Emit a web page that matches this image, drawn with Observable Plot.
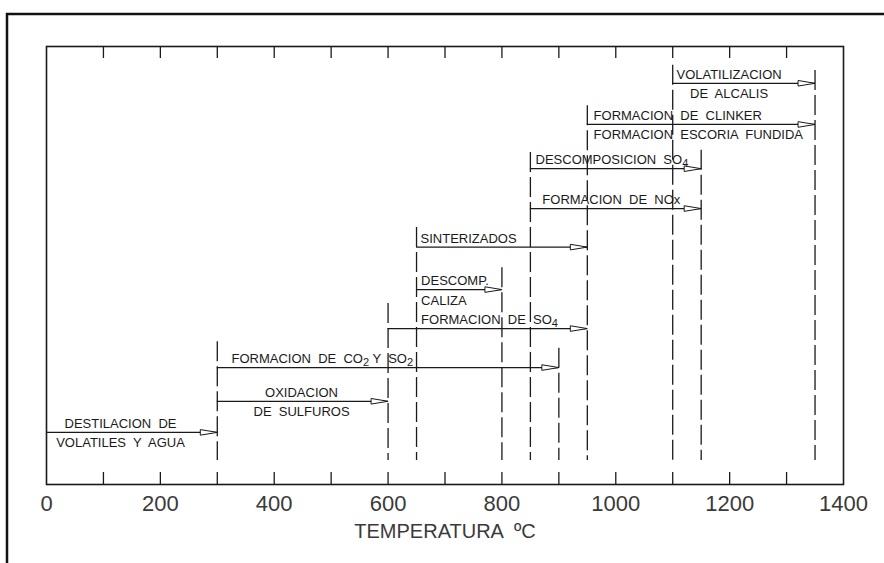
<!DOCTYPE html>
<html>
<head>
<meta charset="utf-8">
<script src="https://cdn.jsdelivr.net/npm/d3@7"></script>
<script src="https://cdn.jsdelivr.net/npm/@observablehq/plot@0.6"></script>
<style>
  html, body { margin: 0; padding: 0; background: white; }
  svg text { white-space: pre; }
</style>
</head>
<body>
<div id="chart"></div>
<script>
// ---- Data: stages of clinker burning vs. temperature (°C) ----
const labelsAbove = [
  "DESTILACION  DE", "OXIDACION", "FORMACION  DE  CO₂ Y  SO₂", "FORMACION  DE  SO₄",
  "DESCOMP.", "SINTERIZADOS", "FORMACION  DE  NOx", "DESCOMPOSICION  SO₄",
  "FORMACION  DE  CLINKER", "VOLATILIZACION"
];
const labelsBelow = [
  "VOLATILES  Y  AGUA", "DE  SULFUROS", "", "", "CALIZA", "", "", "",
  "FORMACION  ESCORIA  FUNDIDA", "DE  ALCALIS"
];
const tStart = [0, 300, 300, 600, 650, 650, 850, 850, 950, 1100];
const tEnd   = [300, 600, 900, 950, 800, 950, 1150, 1150, 1350, 1350];
const rowLevel = [11.9, 19.0, 26.7, 35.6, 44.5, 54.2, 63.0, 72.1, 82.2, 91.6];

// reference temperatures (dashed verticals) and the level where each begins
const markerTemps = [300, 600, 650, 800, 850, 900, 950, 1100, 1150, 1350];
const markerTop   = [32.6, 41.3, 58.7, 49.5, 75.8, 31.1, 86.5, 95.7, 76.3, 94.5];

const xTicks = [0, 200, 400, 600, 800, 1000, 1200, 1400];
const minorTicks = [100, 200, 300, 400, 500, 600, 700, 800, 900, 1000, 1100, 1200, 1300];
const axisTitle = "TEMPERATURA  ºC";

// ---- Layout (label anchoring) ----
const labelX = [130, 448, 325, 658, 658, 657, 871, 859, 961, 1199];
const labelAlign = ["middle", "middle", "start", "start", "start", "start", "start", "start", "start", "middle"];
const markerBottom = 5.5;

const rows = tStart.map((t0, i) => ({
  t0, t1: tEnd[i], level: rowLevel[i],
  above: labelsAbove[i], below: labelsBelow[i],
  lx: labelX[i], align: labelAlign[i]
}));
const markers = markerTemps.map((t, i) => ({t, top: markerTop[i]}));

const arrowHead = {
  draw(ctx) {
    ctx.moveTo(0, 0);
    ctx.lineTo(-17, -2.8);
    ctx.lineTo(-17, 2.8);
    ctx.closePath();
  }
};

const ink = "#1a1a1a";
const labelFont = 13;

const textMarks = ["start", "middle"].flatMap(a => [
  Plot.text(rows.filter(r => r.align === a && r.above), {
    x: "lx", y: "level", text: "above", textAnchor: a, lineAnchor: "bottom",
    dy: -4.5, fontSize: labelFont, fill: ink
  }),
  Plot.text(rows.filter(r => r.align === a && r.below), {
    x: "lx", y: "level", text: "below", textAnchor: a, lineAnchor: "bottom",
    dy: 15, fontSize: labelFont, fill: ink
  })
]);

const plot = Plot.plot({
  width: 884,
  height: 563,
  marginLeft: 46,
  marginRight: 41,
  marginTop: 46,
  marginBottom: 79,
  style: {fontFamily: "'Liberation Sans', Arial, sans-serif", background: "white", color: ink},
  x: {domain: [0, 1400]},
  y: {domain: [0, 100], axis: null},
  marks: [
    // dashed reference temperatures
    Plot.ruleX(markers, {x: "t", y1: "top", y2: () => markerBottom,
      stroke: ink, strokeWidth: 1.3, strokeDasharray: "20,5"}),
    // process spans
    Plot.ruleY(rows, {y: "level", x1: "t0", x2: "t1", stroke: ink, strokeWidth: 1.3}),
    Plot.dot(rows, {x: "t1", y: "level", symbol: arrowHead, r: 4,
      fill: "white", stroke: ink, strokeWidth: 1}),
    ...textMarks,
    // inner ticks (top and bottom)
    Plot.ruleX(minorTicks, {x: d => d, insetTop: 426, stroke: ink, strokeWidth: 1.3}),
    Plot.ruleX(minorTicks, {x: d => d, insetBottom: 426, stroke: ink, strokeWidth: 1.3}),
    Plot.frame({stroke: ink, strokeWidth: 1.6}),
    Plot.axisX({ticks: xTicks, tickSize: 0, tickPadding: 11, fontSize: 22,
      tickFormat: d3.format("d"), label: null, color: "#3a3a3a"}),
    Plot.text([axisTitle], {text: d => d, frameAnchor: "bottom", lineAnchor: "middle",
      dy: 47, fontSize: 20, fill: "#3a3a3a"})
  ]
});

// render chemical subscripts as lowered, smaller digits
const subMap = {"₂": "2", "₄": "4"};
d3.select(plot).selectAll("text").each(function () {
  const s = this.textContent;
  if (!/[₂₄]/.test(s) || this.querySelector("tspan")) return;
  const parts = s.split(/([₂₄])/).filter(p => p !== "");
  this.textContent = "";
  let lowered = false;
  for (const p of parts) {
    const t = d3.select(this).append("tspan");
    if (subMap[p]) {
      t.attr("font-size", p === "₂" ? 11 : 11).attr("dy", lowered ? null : 3).text(subMap[p]);
      lowered = true;
    } else {
      if (lowered) t.attr("dy", -3);
      lowered = false;
      t.text(p);
    }
  }
});

// outer drawing border (top and left edges)
d3.select(plot).append("path")
  .attr("d", "M7,563V14H884")
  .attr("fill", "none")
  .attr("stroke", "#111")
  .attr("stroke-width", 2.5);

document.getElementById("chart").appendChild(plot);
</script>
</body>
</html>
